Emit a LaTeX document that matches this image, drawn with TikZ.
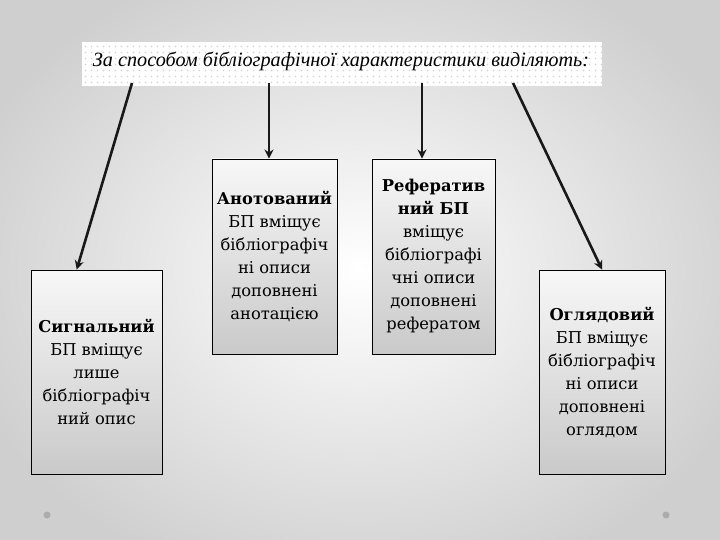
\documentclass[tikz,border=0pt]{standalone}
\usepackage{fontspec}
\setmainfont{DejaVu Serif}
\newfontfamily\titlefont{Liberation Serif}
\usetikzlibrary{patterns,calc,arrows.meta}
\pgfdeclarepatternformonly{sparsedots}{\pgfpoint{-1pt}{-1pt}}{\pgfpoint{7pt}{7pt}}{\pgfpoint{6pt}{6pt}}{%
  \pgfpathcircle{\pgfpoint{1.5pt}{1.5pt}}{0.8pt}\pgfusepath{fill}}
\tikzset{
  bpbox/.style={draw=black, line width=0.9pt, top color=gray!6, bottom color=gray!42,
    align=center, font=\fontsize{16.3}{23}\selectfont, inner sep=0pt},
  bparrow/.style={line width=2.6pt, -{Stealth[length=9pt,width=9pt]}, black!90},
  corner/.style={circle, fill=gray!65, minimum size=7pt, inner sep=0pt}
}
\begin{document}
\begin{tikzpicture}[x=1pt,y=-1pt]
\useasboundingbox (0,0) rectangle (720,540);
\shade[inner color=white, outer color=gray!38] (-60,-60) rectangle (780,600);
% title band
\fill[white] (82,42) rectangle (602,86);
\fill[pattern=sparsedots, pattern color=gray!35] (82,42) rectangle (602,86);
\node[font=\titlefont\itshape\fontsize{20.2}{24}\selectfont] (title) at (341,61) {За способом бібліографічної характеристики виділяють:};
\coordinate (s1) at (132,83);
\coordinate (s2) at (269,83);
\coordinate (s3) at (422,83);
\coordinate (s4) at (513,83);
% boxes
\node[bpbox, minimum width=131pt, minimum height=204pt] (b1) at (96.5,372)
  {\textbf{Сигнальний}\\БП вміщує\\лише\\бібліографіч\\ний опис};
\node[bpbox, minimum width=125pt, minimum height=195pt] (b2) at (274.5,256.5)
  {\textbf{Анотований}\\БП вміщує\\бібліографіч\\ні описи\\доповнені\\анотацією};
\node[bpbox, minimum width=123pt, minimum height=195pt] (b3) at (433.5,256.5)
  {\textbf{Рефератив}\\\textbf{ний БП}\\вміщує\\бібліографі\\чні описи\\доповнені\\рефератом};
\node[bpbox, minimum width=126pt, minimum height=204pt] (b4) at (602,372)
  {\textbf{Оглядовий}\\БП вміщує\\бібліографіч\\ні описи\\доповнені\\оглядом};
% arrows
\draw[bparrow] (s1) -- ($(b1.north west)!0.35!(b1.north east)$);
\draw[bparrow] (s2) -- (s2 |- b2.north);
\draw[bparrow] (s3) -- (s3 |- b3.north);
\draw[bparrow] (s4) -- ($(b4.north west)!0.5!(b4.north east)$);
% corner dots
\node[corner] (d1) at (47,515) {};
\node[corner] (d2) at (666,515) {};
\end{tikzpicture}
\end{document}
